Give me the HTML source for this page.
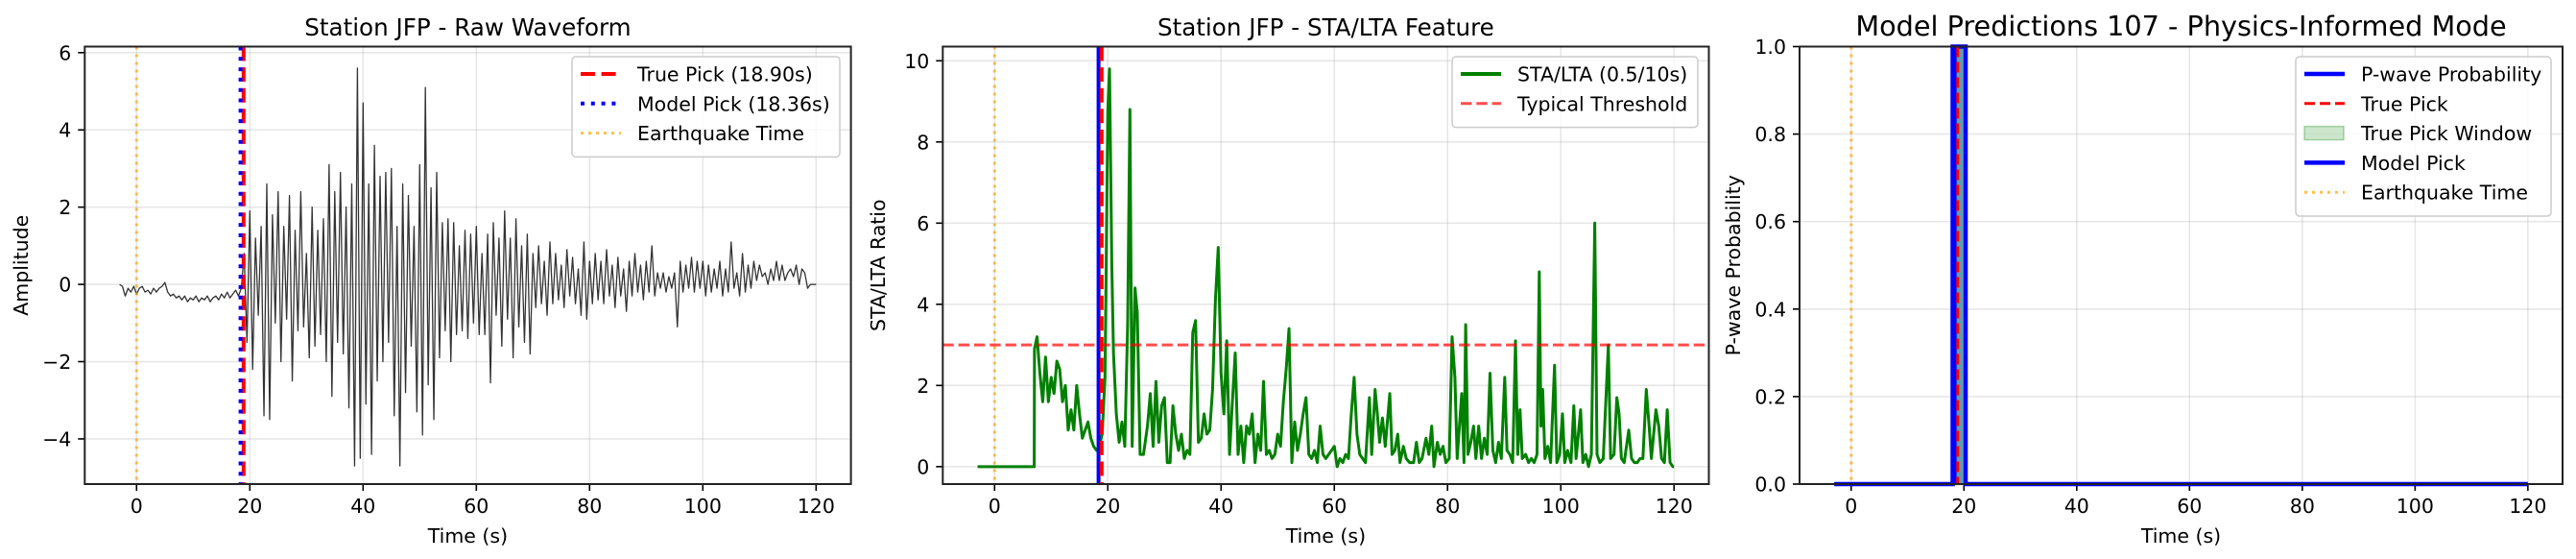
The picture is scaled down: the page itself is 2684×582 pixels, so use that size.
<!DOCTYPE html>
<html><head><meta charset="utf-8"><style>
html,body{margin:0;padding:0;background:#fff;}
svg{display:block;font-family:"DejaVu Sans","Liberation Sans",sans-serif;}
</style></head><body>
<svg id="fig" width="2684" height="582" viewBox="0 0 2684 582" xmlns="http://www.w3.org/2000/svg"></svg>
<script>
// ---------- data ----------
const xTicks = [0,20,40,60,80,100,120];
const waveT0 = -3;
const waveDt = 0.5;
const wavePre = [0,-0.05,-0.3,-0.1,-0.2,-0.05,-0.25,-0.1,-0.05,-0.2,
 -0.15,-0.25,-0.1,-0.2,-0.1,-0.05,0.05,-0.2,-0.3,-0.25,
 -0.35,-0.3,-0.4,-0.3,-0.45,-0.35,-0.4,-0.3,-0.45,-0.35,
 -0.4,-0.3,-0.45,-0.35,-0.3,-0.4,-0.25,-0.35,-0.2,-0.35,
 -0.25,-0.15,-0.3,-0.1];
const waveEvent = [0.8,-1.5,1.9,-2.2,1.2,-0.8,1.5,-3.4,2.6,-3.5,
 1.8,-1.0,2.4,-2.0,1.5,-0.9,2.3,-2.5,1.4,-1.2,
 2.4,-1.1,0.8,-1.9,2.0,-1.6,1.4,-1.3,1.7,-2.0,
 3.1,-2.9,2.4,-1.5,2.9,-1.8,2.0,-3.2,2.6,-4.7,
 5.6,-4.5,4.7,-3.1,2.6,-4.4,3.6,-2.5,2.8,-2.0,
 2.9,-1.5,3.0,-3.4,1.5,-4.7,2.6,-2.8,2.3,-1.6,
 1.5,-3.3,3.1,-3.9,5.1,-2.6,2.5,-3.5,2.9,-1.9,
 1.6,-1.2,1.7,-2.0,1.6,-1.3,1.0,-1.2,1.4,-1.4,
 1.3,-1.0,1.5,-1.3,0.8,-1.3,1.3,-2.55,1.6,-0.8,
 1.2,-1.6,1.9,-0.9,1.2,-1.9,1.7,-1.1,1.0,-1.5,
 1.3,-1.8,0.8,-0.6,1.0,-0.5,0.6,-0.8,1.1,-0.5,
 0.8,-0.4,0.5,-0.6,0.9,-0.3,0.7,-0.5,0.4,-0.8,
 1.1,-0.9,0.6,-0.5,0.8,-0.4,0.6,-0.5,0.9,-0.3,
 0.5,-0.6,0.7,-0.3,0.4,-0.7,0.6,-0.3,0.8,-0.2,
 0.5,-0.4,0.6,-0.2,1.0,-0.3,0.3,-0.1,0.3,-0.2,
 0.2,-0.1,0.3,-1.1,0.6,-0.2,0.5,-0.1,0.7,-0.2,
 0.6,-0.1,0.6,-0.3,0.5,-0.2,0.4,-0.1,0.6,-0.3,
 0.4,-0.2,1.1,-0.1,0.3,-0.3,0.8,-0.2,0.5,-0.1,
 0.6,0.1,0.5,0.2,0.3,0.0,0.4,0.1,0.6,0.1,
 0.5,0.1,0.3,0.4,0.2,0.5,0.0,0.4,0.3,-0.1,
 0.0,0.0,0.0];
const waveTicks = [-4,-2,0,2,4,6];
const staTimes = [-3,7,7.05,7.5,8,8.5,9,9.5,10,10.5,11,11.5,12,12.5,13,13.5,14,14.5,15,15.5,16,16.5,17,17.5,18,18.5,19,19.5,20,20.3,20.7,21,21.5,22,22.5,23,23.5,23.9,24.3,24.8,25.2,25.7,26.3,27,27.5,28,28.5,29,29.5,30,30.5,31,31.5,32,32.5,33,33.5,34,34.5,35,35.5,36,36.5,37,37.5,38,38.5,39,39.5,40,40.5,41,41.5,42,42.5,43,43.5,44,44.5,45,45.5,46,46.5,47,47.5,48,48.5,49,49.5,50,50.5,51,51.5,52,52.5,53,53.5,54,54.5,55,55.5,56,56.5,57,57.5,58,58.5,59,59.5,60,60.5,61,61.5,62,62.5,63,63.5,64,64.5,65,65.5,66.2,66.6,67.2,67.6,68,68.5,69,69.8,70.2,70.7,71.2,71.6,72.2,72.7,73.3,74,74.5,75,75.5,76.2,76.7,77.2,77.6,78.2,78.7,79.2,79.7,80.3,80.8,81.3,81.7,82.5,82.9,83.2,83.6,84.1,84.6,85,85.5,86,86.5,87,87.5,88,88.5,89,89.5,90.1,90.5,91,91.5,92,92.4,92.8,93.2,93.8,94.3,94.8,95.3,95.8,96.2,96.5,96.8,97.2,97.7,98.2,98.9,99.3,99.8,100.3,100.7,101.2,101.8,102.3,102.7,103.5,103.9,104.4,104.9,105.4,106,106.4,106.9,107.5,108.4,108.8,109.4,109.9,110.3,110.7,111.2,112,112.5,113,113.5,114,114.5,115.1,115.6,116,116.8,117.3,117.8,118.3,118.8,119.3,119.8,120];
const staValues = [0,0,2.9,3.2,2.3,1.6,2.7,1.6,2.2,1.8,2.6,2.4,1.6,2.0,0.9,1.4,0.9,2.0,1.3,0.7,0.9,1.1,0.7,0.5,0.4,0.5,0.8,2.2,8.8,9.8,5.0,2.8,1.3,0.6,1.1,0.5,3.5,8.8,0.5,4.4,3.8,0.3,0.3,1.0,1.8,0.5,2.1,0.6,1.5,1.7,0.1,0.1,1.5,0.8,0.4,0.8,0.2,0.4,0.3,3.3,3.6,0.6,0.7,1.3,0.8,0.9,1.9,4.1,5.4,2.3,1.3,3.1,0.3,1.6,2.8,0.3,1.0,0.1,1.0,0.8,1.3,0.1,0.8,0.4,2.1,0.3,0.4,0.2,0.3,0.8,0.5,1.6,2.4,3.4,0.1,1.1,0.4,0.8,1.3,1.7,0.3,0.2,0.4,0.1,1.0,0.3,0.2,0.3,0.4,0.5,0.0,0.2,0.1,0.3,0.2,1.3,2.2,0.8,0.3,0.2,0.1,1.7,0.3,1.9,1.3,0.6,1.2,0.5,1.8,0.3,0.4,0.8,0.1,0.5,0.2,0.1,0.1,0.6,0.1,0.2,0.7,0.3,1.0,0.0,0.6,0.3,0.5,0.1,0.2,3.2,2.2,0.2,1.8,0.1,3.5,0.3,0.6,1.0,0.2,1.0,0.2,0.7,0.3,2.3,0.4,0.1,0.6,0.2,2.2,0.4,0.3,0.1,3.1,0.3,1.4,0.2,0.3,0.1,0.2,0.1,0.3,4.8,1.0,1.9,0.2,0.5,0.1,2.5,0.1,0.3,1.3,0.1,0.4,0.1,1.5,0.2,1.4,0.1,0.3,0.0,0.3,6.0,0.3,0.1,0.2,3.0,0.2,0.3,1.7,1.3,0.2,0.1,0.9,0.2,0.1,0.1,0.2,0.2,1.9,1.0,0.2,1.4,1.0,0.2,0.1,1.4,0.1,0.0,0.0];
const staTicks = [0,2,4,6,8,10];
const threshold = 3.0;
const probTimes = [-3,18.0,18.0,20.3,20.3,120];
const probValues = [0,0,1,1,0,0];
const probTicks = [0.0,0.2,0.4,0.6,0.8,1.0];
const truePick = 18.90;
const modelPick = 18.36;
const eqTime = 0;
const windowHalf = 1.0;

// ---------- helpers ----------
const NS = "http://www.w3.org/2000/svg";
const svg = document.getElementById('fig');
function mk(tag, attrs, parent){
  const e = document.createElementNS(NS, tag);
  for (const k in attrs) e.setAttribute(k, attrs[k]);
  (parent||svg).appendChild(e);
  return e;
}
function makeAxes(left, right, top, bottom, xlim, ylim){
  return {
    left, right, top, bottom,
    x: v => left + (v - xlim[0]) / (xlim[1]-xlim[0]) * (right-left),
    y: v => bottom - (v - ylim[0]) / (ylim[1]-ylim[0]) * (bottom-top)
  };
}
function drawFrame(ax, g, yTicks, yFmt, title, titleSize, ylabel, ylabelX){
  // grid
  const grid = mk('g', {}, g);
  
  
  xTicks.forEach(t => mk('line',{x1:ax.x(t),x2:ax.x(t),y1:ax.top,y2:ax.bottom,stroke:'#b0b0b0','stroke-opacity':0.3,'stroke-width':1.6}, grid));
  yTicks.forEach(t => mk('line',{x1:ax.left,x2:ax.right,y1:ax.y(t),y2:ax.y(t),stroke:'#b0b0b0','stroke-opacity':0.3,'stroke-width':1.6}, grid));
  // tick labels
  const xt = mk('g', {'font-size':20.5,'text-anchor':'middle',fill:'#000'}, g);
  
  
  xTicks.forEach(t => {
    mk('line',{x1:ax.x(t),x2:ax.x(t),y1:ax.bottom,y2:ax.bottom+7,stroke:'#000','stroke-width':1.6}, xt);
    const tx = mk('text',{x:ax.x(t),y:534}, xt); tx.textContent = t;
  });
  const yt = mk('g', {'font-size':20.5,'text-anchor':'end',fill:'#000'}, g);
  
  
  yTicks.forEach(t => {
    mk('line',{x1:ax.left-7,x2:ax.left,y1:ax.y(t),y2:ax.y(t),stroke:'#000','stroke-width':1.6}, yt);
    const tx = mk('text',{x:ax.left-14,y:ax.y(t)+7.5}, yt); tx.textContent = yFmt(t).replace('-','\u2212');
  });
  const xl = mk('text',{x:(ax.left+ax.right)/2,y:565,'font-size':20.5,'text-anchor':'middle'}, g);
  xl.textContent = 'Time (s)';
  
  
  const cy = (ax.top+ax.bottom)/2;
  const yl = mk('text',{x:ylabelX,y:cy,'font-size':20.5,'text-anchor':'middle',transform:`rotate(-90 ${ylabelX} ${cy})`}, g);
  yl.textContent = ylabel;
  
  
  const ti = mk('text',{x:(ax.left+ax.right)/2,y:37,'font-size':titleSize,'text-anchor':'middle'}, g);
  ti.textContent = title;
  
  
}
function drawSpines(ax, g){
  const r = mk('rect',{x:ax.left,y:ax.top,width:ax.right-ax.left,height:ax.bottom-ax.top,fill:'none',stroke:'#222','stroke-width':2}, g);
  
  
}
function vline(ax, g, t, attrs, name){
  const l = mk('line', Object.assign({x1:ax.x(t),x2:ax.x(t),y1:ax.top,y2:ax.bottom}, attrs), g);
  
  
  return l;
}
function legend(g, x, y, w, rows){
  const box = mk('rect',{x:x,y:y,width:w,height:rows.length*30.8+12,rx:4,fill:'#fff','fill-opacity':0.8,stroke:'#cccccc','stroke-width':1.5}, g);
  
  
  rows.forEach((r,i) => {
    const cy = y + 18 + i*30.8;
    const eg = mk('g', {}, g);
    
    
    if (r.patch) mk('rect',{x:x+9,y:cy-7,width:41,height:14,fill:r.patch,'fill-opacity':0.2,stroke:r.patch,'stroke-opacity':0.3,'stroke-width':1.5}, eg);
    else mk('line', Object.assign({x1:x+9,x2:x+51,y1:cy,y2:cy}, r.line), eg);
    const t = mk('text',{x:x+68,y:cy+7.5,'font-size':20.5}, eg);
    t.textContent = r.label;
  });
}
function pathFrom(ax, ts, vs){
  return ts.map((t,i) => (i?'L':'M') + ax.x(t).toFixed(2) + ',' + ax.y(vs[i]).toFixed(2)).join('');
}
const XLIM = [-9.15, 126.15];

// ---------- panel 1 ----------
{
  const g = mk('g', {});
  
  
  const ax = makeAxes(88.3, 886.6, 48.5, 504, XLIM, [-5.17, 6.157]);
  drawFrame(ax, g, waveTicks, v => String(v), 'Station JFP - Raw Waveform', 24.6, 'Amplitude', 29);
  const vals = wavePre.concat(waveEvent);
  const ts = vals.map((v,i) => waveT0 + i*waveDt);
  const p = mk('path',{d:pathFrom(ax, ts, vals),fill:'none',stroke:'#000','stroke-opacity':0.8,'stroke-width':1.3,'stroke-linejoin':'round'}, g);
  
  
  vline(ax, g, truePick, {stroke:'#ff0000','stroke-width':4,'stroke-dasharray':'15 6.6'}, 'true-pick-line');
  vline(ax, g, modelPick, {stroke:'#0000ff','stroke-width':4,'stroke-dasharray':'4 6.8'}, 'model-pick-line');
  vline(ax, g, eqTime, {stroke:'#ffa500','stroke-opacity':0.7,'stroke-width':3,'stroke-dasharray':'3 5'}, 'earthquake-time-line');
  drawSpines(ax, g);
  legend(g, 596, 59, 279, [
    {label:'True Pick (18.90s)', line:{stroke:'#ff0000','stroke-width':4,'stroke-dasharray':'15 6.6'}},
    {label:'Model Pick (18.36s)', line:{stroke:'#0000ff','stroke-width':4,'stroke-dasharray':'4 6.8'}},
    {label:'Earthquake Time', line:{stroke:'#ffa500','stroke-opacity':0.7,'stroke-width':3,'stroke-dasharray':'3 5'}}
  ]);
}
// ---------- panel 2 ----------
{
  const g = mk('g', {});
  
  
  const ax = makeAxes(982.3, 1780.5, 48.5, 504, XLIM, [-0.43, 10.35]);
  drawFrame(ax, g, staTicks, v => String(v), 'Station JFP - STA/LTA Feature', 24.6, 'STA/LTA Ratio', 922);
  vline(ax, g, eqTime, {stroke:'#ffa500','stroke-opacity':0.7,'stroke-width':3,'stroke-dasharray':'3 5'}, 'earthquake-time-line');
  const p = mk('path',{d:pathFrom(ax, staTimes, staValues),fill:'none',stroke:'#008000','stroke-width':3,'stroke-linejoin':'round'}, g);
  
  
  const th = mk('line',{x1:ax.left,x2:ax.right,y1:ax.y(threshold),y2:ax.y(threshold),stroke:'#ff0000','stroke-opacity':0.7,'stroke-width':3,'stroke-dasharray':'11.4 4.9'}, g);
  
  
  vline(ax, g, modelPick, {stroke:'#0000ff','stroke-width':4}, 'model-pick-line');
  vline(ax, g, truePick, {stroke:'#ff0000','stroke-width':4,'stroke-dasharray':'15 6.6'}, 'true-pick-line');
  drawSpines(ax, g);
  legend(g, 1513, 59, 256, [
    {label:'STA/LTA (0.5/10s)', line:{stroke:'#008000','stroke-width':4}},
    {label:'Typical Threshold', line:{stroke:'#ff0000','stroke-opacity':0.7,'stroke-width':3,'stroke-dasharray':'11.4 4.9'}}
  ]);
}
// ---------- panel 3 ----------
{
  const g = mk('g', {});
  
  
  const ax = makeAxes(1875, 2670, 48.5, 504, XLIM, [0, 1]);
  drawFrame(ax, g, probTicks, v => v.toFixed(1), 'Model Predictions 107 - Physics-Informed Mode', 28.7, 'P-wave Probability', 1813);
  vline(ax, g, eqTime, {stroke:'#ffa500','stroke-opacity':0.7,'stroke-width':3,'stroke-dasharray':'3 5'}, 'earthquake-time-line');
  const inner = mk('rect',{x:ax.x(probTimes[1]),y:ax.top,width:ax.x(probTimes[3])-ax.x(probTimes[1]),height:ax.bottom-ax.top,fill:'#7fa0d8'}, g);
  
  
  const win = mk('rect',{x:ax.x(truePick-windowHalf),y:ax.top,width:ax.x(truePick+windowHalf)-ax.x(truePick-windowHalf),height:ax.bottom-ax.top,fill:'#008000','fill-opacity':0.2}, g);
  
  
  const p = mk('path',{d:pathFrom(ax, probTimes, probValues),fill:'none',stroke:'#0000ff','stroke-width':4.5}, g);
  
  
  vline(ax, g, modelPick, {stroke:'#0000ff','stroke-width':4}, 'model-pick-line');
  vline(ax, g, truePick, {stroke:'#ff0000','stroke-width':3,'stroke-dasharray':'11 5'}, 'true-pick-line');
  drawSpines(ax, g);
  legend(g, 2392, 59, 266, [
    {label:'P-wave Probability', line:{stroke:'#0000ff','stroke-width':4.5}},
    {label:'True Pick', line:{stroke:'#ff0000','stroke-width':3,'stroke-dasharray':'11 5'}},
    {label:'True Pick Window', patch:'#008000'},
    {label:'Model Pick', line:{stroke:'#0000ff','stroke-width':4.5}},
    {label:'Earthquake Time', line:{stroke:'#ffa500','stroke-opacity':0.7,'stroke-width':3,'stroke-dasharray':'3 5'}}
  ]);
}
</script>
</body></html>
